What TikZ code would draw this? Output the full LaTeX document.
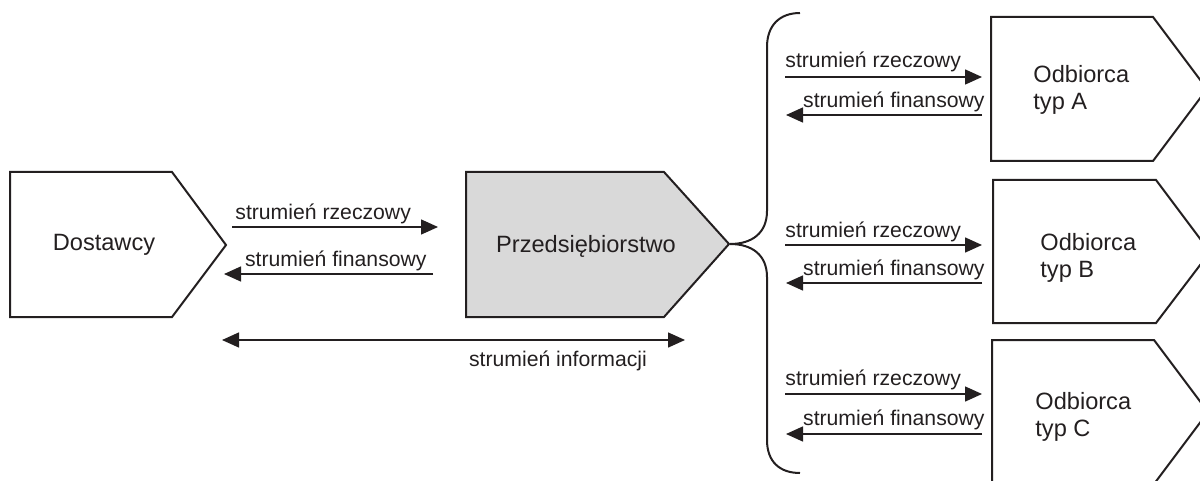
\documentclass[tikz,border=0pt]{standalone}
\usepackage{fontspec}
\setmainfont{Liberation Sans}
\usetikzlibrary{arrows.meta}
\definecolor{ink}{HTML}{231F20}
\definecolor{boxgray}{HTML}{D9D9D9}
\tikzset{
  box/.style={draw=ink, line width=1pt, line join=miter},
  flow/.style={draw=ink, line width=0.75pt, -{Triangle[length=8.5pt,width=7.5pt]}},
  biflow/.style={draw=ink, line width=0.75pt, {Triangle[length=8.5pt,width=7.5pt]}-{Triangle[length=8.5pt,width=7.5pt]}},
  lbl/.style={inner sep=0pt, text=ink, font=\fontsize{10.6}{12}\selectfont},
  big/.style={inner sep=0pt, text=ink, font=\fontsize{11.8}{13.5}\selectfont, align=left},
}
\begin{document}
\begin{tikzpicture}[x=0.5pt,y=-0.5pt]
\useasboundingbox (0,0) rectangle (1200,481);
\clip (0,0) rectangle (1200,481);
% Dostawcy
\draw[box] (10,172) -- (172,172) -- (226,245) -- (172,317) -- (10,317) -- cycle;
\node[big] (dost) at (104,245) {Dostawcy};
% Przedsiebiorstwo
\draw[box, fill=boxgray] (466,172) -- (664,172) -- (729,244) -- (664,317) -- (466,317) -- cycle;
\node[big] (przed) at (586,246) {Przedsiębiorstwo};
% arrows left
\coordinate (l1a) at (232,227); \coordinate (l1b) at (438,227);
\coordinate (l2a) at (433,274); \coordinate (l2b) at (224,274);
\draw[flow] (l1a) -- (l1b);
\draw[flow] (l2a) -- (l2b);
\node[lbl, anchor=base west] (t1) at (235,220) {strumień rzeczowy};
\node[lbl, anchor=base east] (t2) at (427,266) {strumień finansowy};
% info
\coordinate (ia) at (222,340); \coordinate (ib) at (685,340);
\draw[biflow] (ia) -- (ib);
\node[lbl, anchor=base] (ti) at (558,366) {strumień informacji};
% brace
\coordinate (tip) at (730,244);
\draw[ink, line width=1pt] (800,13) .. controls (780,13) and (767,25) .. (767,47) -- (767,211)
  .. controls (767,233) and (752,244) .. (tip)
  .. controls (752,244) and (767,255) .. (767,277) -- (767,440)
  .. controls (767,462) and (780,473) .. (800,473);
% right arrows
\foreach \n/\ya/\yb/\ba/\bb in {A/77/115/68/108, B/245/283/237/275, C/394/434/385/425}{
  \coordinate (r\n a) at (785,\ya); \coordinate (r\n b) at (982,\ya);
  \coordinate (f\n a) at (982,\yb); \coordinate (f\n b) at (786,\yb);
  \draw[flow] (r\n a) -- (r\n b);
  \draw[flow] (f\n a) -- (f\n b);
  \node[lbl, anchor=base west] (tr\n) at (785,\ba) {strumień rzeczowy};
  \node[lbl, anchor=base east] (tf\n) at (985,\bb) {strumień finansowy};
}
% Odbiorcy
\draw[box] (991,17) -- (1153,17) -- (1207,89) -- (1153,161) -- (991,161) -- cycle;
\node[big, anchor=west] (oA) at (1033,90) {Odbiorca\\typ A};
\draw[box] (993,180) -- (1156,180) -- (1210,252) -- (1156,323) -- (993,323) -- cycle;
\node[big, anchor=west] (oB) at (1040,258) {Odbiorca\\typ B};
\draw[box] (992,340) -- (1154,340) -- (1208,412) -- (1154,484) -- (992,484) -- cycle;
\node[big, anchor=west] (oC) at (1035,417) {Odbiorca\\typ C};
\end{tikzpicture}
\end{document}
